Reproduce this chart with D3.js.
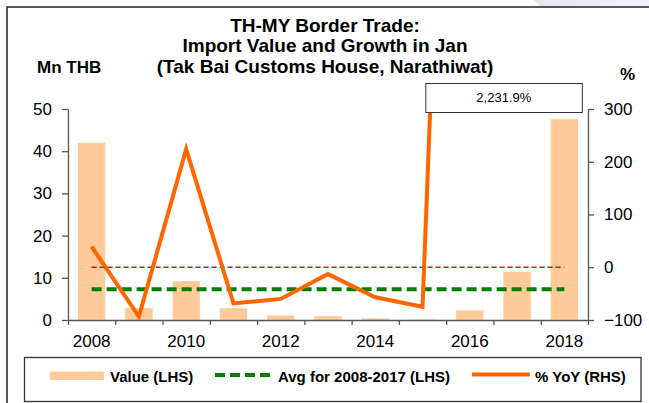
<!DOCTYPE html>
<html>
<head>
<meta charset="utf-8">
<script src="https://cdn.jsdelivr.net/npm/d3@7"></script>
<style>
  html, body { margin: 0; padding: 0; background: #fff; }
  svg { display: block; font-family: "Liberation Sans", Arial, sans-serif; }
  .axis text { fill: #000; font-size: 17px; }
  .axis path, .axis line { stroke: #555; stroke-width: 1.3; }
</style>
</head>
<body>
<svg id="chart" width="649" height="403"></svg>
<script>
// Import value (Mn THB) in January, Tak Bai Customs House
const years = [2008, 2009, 2010, 2011, 2012, 2013, 2014, 2015, 2016, 2017, 2018];
const importValue = [42.0, 2.8, 9.2, 2.8, 1.1, 0.9, 0.4, 0.1, 2.3, 11.4, 47.6];
// Year-on-year growth (%)
const yoyGrowth = [39, -93.5, 224, -68.5, -60, -13, -57, -75, 2231.9, 396, 318];
// Average import value for 2008-2017 (Mn THB)
const avgValue = [7.3];
const leftTicks = [0, 10, 20, 30, 40, 50];
const rightTicks = [-100, 0, 100, 200, 300];
const yearLabels = [2008, 2010, 2012, 2014, 2016, 2018];
const titleLines = ["TH-MY Border Trade:", "Import Value and Growth in Jan", "(Tak Bai Customs House, Narathiwat)"];
const legendItems = ["Value (LHS)", "Avg for 2008-2017 (LHS)", "% YoY (RHS)"];
const calloutYear = 2016;

const svg = d3.select("#chart");
const plot = { left: 68, right: 588, top: 109, bottom: 320 };

const x = d3.scaleBand().domain(years).range([plot.left, plot.right]).padding(0);
const xEdge = d3.scaleLinear().domain([0, years.length]).range([plot.left, plot.right]);
const yL = d3.scaleLinear().domain([0, 50]).range([plot.bottom, plot.top]);
const yR = d3.scaleLinear().domain([-100, 300]).range([plot.bottom, plot.top]);
const cx = d => x(d) + x.bandwidth() / 2;

// faint header decoration in the top-right corner
const grad = svg.append("defs").append("linearGradient").attr("id", "hdr").attr("x1", 0).attr("x2", 1);
grad.append("stop").attr("offset", 0).attr("stop-color", "#e4e6f3");
grad.append("stop").attr("offset", 1).attr("stop-color", "#f3f4fa");
svg.append("path").attr("d", "M533,0 L649,0 L649,7 L541,7 Z").attr("fill", "url(#hdr)");

// outer frame (left and top edges)
svg.append("path").attr("d", "M7,403 V7 H649").attr("fill", "none").attr("stroke", "#222").attr("stroke-width", 1.5);

// title
svg.append("g").selectAll("text").data(titleLines).join("text")
  .attr("x", 325).attr("y", (d, i) => 31.5 + i * 20.5)
  .attr("text-anchor", "middle").attr("font-weight", "bold").attr("font-size", 19)
  .text(d => d);

// axis unit labels
svg.append("text").attr("x", 37).attr("y", 73).attr("font-weight", "bold").attr("font-size", 17).text("Mn THB");
svg.append("text").attr("x", 620).attr("y", 80).attr("font-weight", "bold").attr("font-size", 17).text("%");

// bars
const barW = x.bandwidth() * 0.58;
svg.append("g").selectAll("rect").data(years).join("rect")
  .attr("x", (d) => cx(d) - barW / 2)
  .attr("y", (d, i) => yL(importValue[i]))
  .attr("width", barW)
  .attr("height", (d, i) => plot.bottom - yL(importValue[i]))
  .attr("fill", "#ffcc99");

// axes
svg.append("g").attr("class", "axis").attr("transform", `translate(${plot.left},0)`)
  .call(d3.axisLeft(yL).tickValues(leftTicks).tickSize(6).tickSizeOuter(0).tickPadding(10))
  .call(g => g.selectAll("text").attr("font-size", 17));
svg.append("g").attr("class", "axis").attr("transform", `translate(${plot.right},0)`)
  .call(d3.axisRight(yR).tickValues(rightTicks).tickSize(6).tickSizeOuter(0).tickPadding(10))
  .call(g => g.selectAll("text").attr("font-size", 17));
svg.append("g").attr("class", "axis").attr("transform", `translate(0,${plot.bottom})`)
  .call(d3.axisBottom(xEdge).tickValues(d3.range(years.length + 1)).tickSize(5).tickSizeOuter(0).tickFormat(""));
svg.append("g").attr("class", "axis").attr("transform", `translate(0,${plot.bottom})`)
  .call(d3.axisBottom(x).tickValues(yearLabels).tickSize(0).tickPadding(15))
  .call(g => g.select(".domain").remove())
  .call(g => g.selectAll("text").attr("font-size", 17));

// zero line for the growth axis
svg.append("line")
  .attr("x1", cx(years[0])).attr("x2", cx(years[years.length - 1]))
  .attr("y1", yR(0)).attr("y2", yR(0))
  .attr("stroke", "#ff0000").attr("stroke-width", 1.5).attr("stroke-dasharray", "5,3");

// 2008-2017 average line
svg.append("line")
  .attr("x1", cx(years[0])).attr("x2", cx(years[years.length - 1]))
  .attr("y1", yL(avgValue[0])).attr("y2", yL(avgValue[0]))
  .attr("stroke", "#008000").attr("stroke-width", 4).attr("stroke-dasharray", "10,5");

// growth line, clipped to the plot area
svg.append("clipPath").attr("id", "plotClip").append("rect")
  .attr("x", plot.left).attr("y", plot.top).attr("width", plot.right - plot.left).attr("height", plot.bottom - plot.top);
const line = d3.line().x((d, i) => cx(years[i])).y(d => yR(d));
svg.append("path").datum(yoyGrowth)
  .attr("clip-path", "url(#plotClip)")
  .attr("d", line)
  .attr("fill", "none").attr("stroke", "#ff6600").attr("stroke-width", 4);

// callout for the off-scale growth value
const ci = years.indexOf(calloutYear);
const callout = svg.append("g").attr("transform", `translate(${cx(calloutYear) - 44},83.5)`);
callout.append("rect").attr("width", 156.5).attr("height", 29)
  .attr("fill", "#fff").attr("stroke", "#333").attr("stroke-width", 1);
callout.append("text").attr("x", 78).attr("y", 18.5).attr("text-anchor", "middle").attr("font-size", 13)
  .text(d3.format(",.1f")(yoyGrowth[ci]) + "%");

// legend
const lg = svg.append("g");
lg.append("rect").attr("x", 24.5).attr("y", 357.5).attr("width", 616.5).attr("height", 44)
  .attr("fill", "#fff").attr("stroke", "#333").attr("stroke-width", 1.3);
lg.append("rect").attr("x", 50).attr("y", 371.5).attr("width", 54).attr("height", 8.5).attr("fill", "#ffcc99");
lg.append("line").attr("x1", 215).attr("x2", 274).attr("y1", 375).attr("y2", 375)
  .attr("stroke", "#008000").attr("stroke-width", 4).attr("stroke-dasharray", "10,5");
lg.append("line").attr("x1", 472).attr("x2", 530).attr("y1", 374.5).attr("y2", 374.5)
  .attr("stroke", "#ff6600").attr("stroke-width", 4);
lg.selectAll("text.lbl").data(legendItems).join("text").attr("class", "lbl")
  .attr("x", (d, i) => [110, 278, 535][i]).attr("y", 381.5)
  .attr("font-weight", "bold").attr("font-size", 15)
  .text(d => d);
</script>
</body>
</html>
